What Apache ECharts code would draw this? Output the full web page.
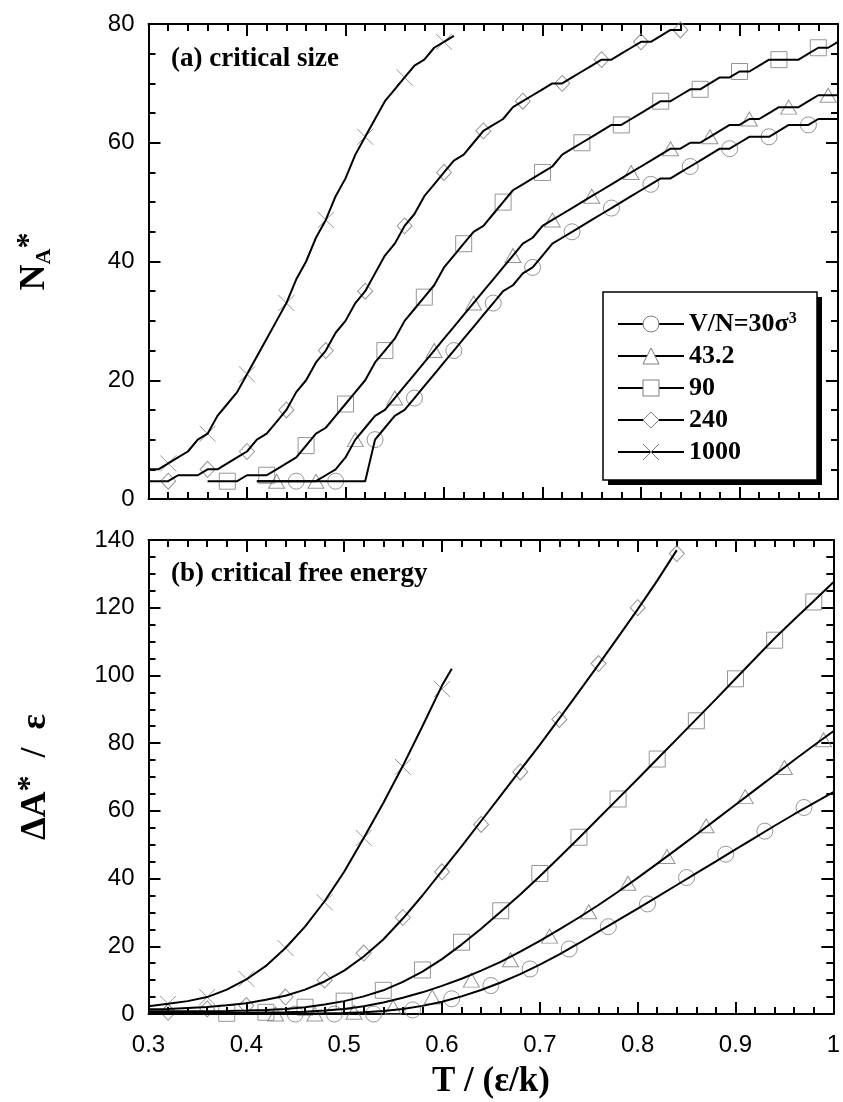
<!DOCTYPE html>
<html>
<head>
<meta charset="utf-8">
<script src="https://cdn.jsdelivr.net/npm/echarts@6/dist/echarts.min.js"></script>
<style>
  html, body { margin: 0; padding: 0; background: #fff; }
  #chart { width: 843px; height: 1102px; }
</style>
</head>
<body>
<div id="chart"></div>
<script>
// Volume per molecule labels (V/N in sigma^3)
const volumes = ['30', '43.2', '90', '240', '1000'];

// Panel (a): critical cluster size N_A* vs T, simulation curves [T, N]
const size30Line = [[0.41,3],[0.42,3],[0.43,3],[0.44,3],[0.45,3],[0.46,3],[0.47,3],[0.48,3],[0.49,3],[0.50,3],[0.51,3],[0.52,3],[0.53,10],[0.54,12],[0.55,14],[0.56,15],[0.57,17],[0.58,19],[0.59,21],[0.60,23],[0.61,25],[0.62,27],[0.63,29],[0.64,31],[0.65,33],[0.66,35],[0.67,36],[0.68,38],[0.69,39],[0.70,41],[0.71,43],[0.72,44],[0.73,45],[0.74,46],[0.75,47],[0.76,48],[0.77,49],[0.78,50],[0.79,51],[0.80,52],[0.81,53],[0.82,54],[0.83,54],[0.84,55],[0.85,56],[0.86,57],[0.87,58],[0.88,59],[0.89,59],[0.90,60],[0.91,61],[0.92,61],[0.93,61],[0.94,62],[0.95,63],[0.96,63],[0.97,63],[0.98,64],[0.99,64],[1.00,64]];
const size43Line = [[0.41,3],[0.42,3],[0.43,3],[0.44,3],[0.45,3],[0.46,3],[0.47,3],[0.48,4],[0.49,5],[0.50,7],[0.51,10],[0.52,12],[0.53,14],[0.54,15],[0.55,17],[0.56,19],[0.57,21],[0.58,23],[0.59,25],[0.60,27],[0.61,29],[0.62,31],[0.63,33],[0.64,35],[0.65,37],[0.66,39],[0.67,41],[0.68,43],[0.69,44],[0.70,46],[0.71,47],[0.72,48],[0.73,49],[0.74,50],[0.75,51],[0.76,52],[0.77,53],[0.78,54],[0.79,55],[0.80,56],[0.81,57],[0.82,58],[0.83,59],[0.84,59],[0.85,60],[0.86,60],[0.87,61],[0.88,62],[0.89,63],[0.90,63],[0.91,64],[0.92,64],[0.93,65],[0.94,66],[0.95,66],[0.96,66],[0.97,67],[0.98,68],[0.99,68],[1.00,68]];
const size90Line = [[0.36,3],[0.37,3],[0.38,3],[0.39,3],[0.40,4],[0.41,4],[0.42,4],[0.43,5],[0.44,6],[0.45,7],[0.46,9],[0.47,11],[0.48,12],[0.49,14],[0.50,16],[0.51,18],[0.52,20],[0.53,23],[0.54,25],[0.55,27],[0.56,30],[0.57,32],[0.58,34],[0.59,36],[0.60,39],[0.61,41],[0.62,43],[0.63,45],[0.64,46],[0.65,48],[0.66,50],[0.67,52],[0.68,53],[0.69,54],[0.70,55],[0.71,56],[0.72,58],[0.73,59],[0.74,60],[0.75,61],[0.76,62],[0.77,63],[0.78,63],[0.79,64],[0.80,65],[0.81,66],[0.82,67],[0.83,67],[0.84,68],[0.85,69],[0.86,69],[0.87,70],[0.88,71],[0.89,71],[0.90,72],[0.91,72],[0.92,73],[0.93,74],[0.94,74],[0.95,74],[0.96,74],[0.97,75],[0.98,76],[0.99,76],[1.00,77]];
const size240Line = [[0.30,3],[0.31,3],[0.32,3],[0.33,4],[0.34,4],[0.35,4],[0.36,5],[0.37,5],[0.38,6],[0.39,7],[0.40,8],[0.41,10],[0.42,11],[0.43,13],[0.44,15],[0.45,18],[0.46,20],[0.47,23],[0.48,25],[0.49,28],[0.50,30],[0.51,33],[0.52,35],[0.53,38],[0.54,41],[0.55,43],[0.56,46],[0.57,48],[0.58,51],[0.59,53],[0.60,55],[0.61,57],[0.62,58],[0.63,60],[0.64,62],[0.65,63],[0.66,64],[0.67,66],[0.68,67],[0.69,68],[0.70,69],[0.71,70],[0.72,70],[0.73,71],[0.74,72],[0.75,73],[0.76,74],[0.77,74],[0.78,75],[0.79,76],[0.80,77],[0.81,77],[0.82,78],[0.83,79],[0.84,79]];
const size1000Line = [[0.30,5],[0.31,5],[0.32,6],[0.33,7],[0.34,8],[0.35,10],[0.36,11],[0.37,14],[0.38,16],[0.39,18],[0.40,21],[0.41,24],[0.42,27],[0.43,30],[0.44,33],[0.45,37],[0.46,40],[0.47,44],[0.48,47],[0.49,51],[0.50,54],[0.51,58],[0.52,61],[0.53,64],[0.54,67],[0.55,69],[0.56,71],[0.57,73],[0.58,74],[0.59,76],[0.60,77],[0.61,78]];

// Panel (a): marked points [T, N]
const size30Pts = [[0.45,3],[0.49,3],[0.53,10],[0.57,17],[0.61,25],[0.65,33],[0.69,39],[0.73,45],[0.77,49],[0.81,53],[0.85,56],[0.89,59],[0.93,61],[0.97,63]];
const size43Pts = [[0.43,3],[0.47,3],[0.51,10],[0.55,17],[0.59,25],[0.63,33],[0.67,41],[0.71,47],[0.75,51],[0.79,55],[0.83,59],[0.87,61],[0.91,64],[0.95,66],[0.99,68]];
const size90Pts = [[0.38,3],[0.42,4],[0.46,9],[0.50,16],[0.54,25],[0.58,34],[0.62,43],[0.66,50],[0.70,55],[0.74,60],[0.78,63],[0.82,67],[0.86,69],[0.90,72],[0.94,74],[0.98,76]];
const size240Pts = [[0.32,3],[0.36,5],[0.40,8],[0.44,15],[0.48,25],[0.52,35],[0.56,46],[0.60,55],[0.64,62],[0.68,67],[0.72,70],[0.76,74],[0.80,77],[0.84,79]];
const size1000Pts = [[0.32,6],[0.36,11],[0.40,21],[0.44,33],[0.48,47],[0.52,61],[0.56,71],[0.60,77]];

// Panel (b): critical free energy dA*/eps, fitted curves [T, dA]
const energy30Line = [[0.30,0],[0.40,0.05],[0.46,0.1],[0.50,0.3],[0.52,0.5],[0.54,0.9],[0.56,1.5],[0.58,2.4],[0.60,3.6],[0.62,5.2],[0.64,7.1],[0.66,9.3],[0.68,11.8],[0.70,14.6],[0.72,17.6],[0.74,20.9],[0.76,24.3],[0.78,27.7],[0.80,31.1],[0.82,34.6],[0.84,38.1],[0.86,41.6],[0.88,45.1],[0.90,48.6],[0.92,52.1],[0.94,55.6],[0.96,59.0],[0.98,62.3],[1.00,65.5]];
const energy43Line = [[0.30,0.3],[0.40,0.35],[0.44,0.5],[0.46,0.7],[0.48,1.0],[0.50,1.5],[0.52,2.3],[0.54,3.4],[0.56,4.8],[0.58,6.4],[0.60,8.3],[0.62,10.4],[0.64,12.8],[0.66,15.4],[0.68,18.4],[0.70,21.6],[0.72,25.0],[0.74,28.5],[0.76,32.2],[0.78,36.1],[0.80,40.2],[0.82,44.4],[0.84,48.7],[0.86,53.0],[0.88,57.4],[0.90,61.8],[0.92,66.2],[0.94,70.6],[0.96,75.0],[0.98,79.3],[1.00,83.5]];
const energy90Line = [[0.30,0.8],[0.34,0.8],[0.38,0.9],[0.40,1.0],[0.42,1.2],[0.44,1.5],[0.46,2.0],[0.48,2.8],[0.50,3.8],[0.52,5.2],[0.54,7.0],[0.56,9.5],[0.58,12.5],[0.60,16.2],[0.62,20.5],[0.64,25.2],[0.66,30.2],[0.68,35.3],[0.70,40.7],[0.72,46.3],[0.74,52.0],[0.76,57.8],[0.78,63.6],[0.80,69.4],[0.82,75.3],[0.84,81.2],[0.86,87.1],[0.88,93.0],[0.90,99.0],[0.92,105.0],[0.94,111.0],[0.96,116.5],[0.98,122.0],[1.00,127.5]];
const energy240Line = [[0.30,1.4],[0.32,1.5],[0.34,1.8],[0.36,2.1],[0.38,2.6],[0.40,3.2],[0.42,4.2],[0.44,5.4],[0.46,7.2],[0.48,9.6],[0.50,12.8],[0.52,17.0],[0.54,22.0],[0.56,28.2],[0.58,35.0],[0.60,42.3],[0.62,49.5],[0.64,57.0],[0.66,64.5],[0.68,72.0],[0.70,79.5],[0.72,87.3],[0.74,95.2],[0.76,103.2],[0.78,111.3],[0.80,119.5],[0.82,128.0],[0.84,137.0]];
const energy1000Line = [[0.30,2.3],[0.32,3.0],[0.34,3.8],[0.36,5.0],[0.38,7.2],[0.40,10.2],[0.42,14.2],[0.44,19.5],[0.46,25.8],[0.48,33.3],[0.50,42.0],[0.52,52.0],[0.54,62.3],[0.56,73.3],[0.58,85.0],[0.60,97.0],[0.61,102.0]];

// Panel (b): marked points [T, dA]
const energy30Pts = [[0.45,0],[0.49,0],[0.53,0],[0.57,1.2],[0.61,4.5],[0.65,8.4],[0.69,13.3],[0.73,19.2],[0.77,25.8],[0.81,32.5],[0.85,40.3],[0.89,47.2],[0.93,54.0],[0.97,61.0]];
const energy43Pts = [[0.43,0],[0.47,0],[0.51,0.5],[0.55,2.0],[0.59,5.0],[0.63,10.0],[0.67,16.0],[0.71,23.0],[0.75,30.2],[0.79,38.6],[0.83,46.5],[0.87,55.6],[0.91,64.2],[0.95,72.8],[0.99,81.0]];
const energy90Pts = [[0.38,0.2],[0.42,0.5],[0.46,2.0],[0.50,3.8],[0.54,7.0],[0.58,13.0],[0.62,21.2],[0.66,30.5],[0.70,41.5],[0.74,52.2],[0.78,63.5],[0.82,75.3],[0.86,86.6],[0.90,99.0],[0.94,110.4],[0.98,121.7]];
const energy240Pts = [[0.32,0.5],[0.36,1.5],[0.40,2.5],[0.44,5.0],[0.48,10.0],[0.52,18.0],[0.56,28.5],[0.60,42.0],[0.64,56.0],[0.68,71.5],[0.72,87.0],[0.76,103.5],[0.80,120.0],[0.84,136.0]];
const energy1000Pts = [[0.32,3.0],[0.36,5.0],[0.40,10.4],[0.44,19.5],[0.48,33.0],[0.52,52.0],[0.56,73.0],[0.60,96.0]];

// Axis tick ranges
const tRange = { min: 0.3, max: 1, step: 0.1 };
const sizeRange = { min: 0, max: 80, step: 20 };
const energyRange = { min: 0, max: 140, step: 20 };

const sizeLines = [size30Line, size43Line, size90Line, size240Line, size1000Line];
const sizePts = [size30Pts, size43Pts, size90Pts, size240Pts, size1000Pts];
const energyLines = [energy30Line, energy43Line, energy90Line, energy240Line, energy1000Line];
const energyPts = [energy30Pts, energy43Pts, energy90Pts, energy240Pts, energy1000Pts];

const INK = '#000';
const MARK = '#7c7c7c';
const SERIF = '"Liberation Serif", "Times New Roman", Times, serif';
const SANS = '"Liberation Sans", Arial, Helvetica, sans-serif';
const CROSS = 'path://M0,0L20,20M20,0L0,20';
const symbols = ['circle', 'triangle', 'rect', 'diamond', CROSS];
const symbolSizes = [16, [16, 14], 16, [15, 16], 16];

function axisCommon(range, minorSplit, showLabels, position, gridIndex) {
  return {
    type: 'value', gridIndex, position,
    min: range.min, max: range.max, interval: range.step,
    axisLine: { show: true, onZero: false, lineStyle: { color: INK, width: 2 } },
    axisTick: { show: true, inside: true, length: 12, lineStyle: { color: INK, width: 2 } },
    minorTick: { show: true, splitNumber: minorSplit, length: 7, lineStyle: { color: INK, width: 2 } },
    splitLine: { show: false },
    minorSplitLine: { show: false },
    axisLabel: { show: showLabels, color: INK, fontFamily: SANS, fontSize: 24 },
    silent: true
  };
}

const NAME_SIZE = 36;
const nameStyle = { color: INK, fontFamily: SERIF, fontWeight: 'bold', fontSize: 35 };

const xAxes = [
  axisCommon(tRange, 5, false, 'bottom', 0),
  axisCommon(tRange, 5, false, 'top', 0),
  Object.assign(axisCommon(tRange, 5, true, 'bottom', 1), {
    name: 'T / (ε/k)', nameLocation: 'middle', nameGap: 50, nameTextStyle: nameStyle
  }),
  axisCommon(tRange, 5, false, 'top', 1)
];
xAxes[2].axisLabel.margin = 19;

const yAxes = [
  Object.assign(axisCommon(sizeRange, 4, true, 'left', 0), {
    name: '{n|N}{s|A}{p|*}', nameLocation: 'middle', nameGap: 93,
    nameTextStyle: Object.assign({}, nameStyle, {
      rich: {
        n: { fontFamily: SERIF, fontWeight: 'bold', fontSize: NAME_SIZE, color: INK, lineHeight: 42 },
        s: { fontFamily: SERIF, fontWeight: 'bold', fontSize: 22, color: INK, verticalAlign: 'bottom', lineHeight: 24 },
        p: { fontFamily: SERIF, fontWeight: 'bold', fontSize: 32, color: INK, verticalAlign: 'top', lineHeight: 32 }
      }
    })
  }),
  axisCommon(sizeRange, 4, false, 'right', 0),
  Object.assign(axisCommon(energyRange, 4, true, 'left', 1), {
    name: '{b|ΔA}{p|*}{b|  /  ε}', nameLocation: 'middle', nameGap: 92,
    nameTextStyle: Object.assign({}, nameStyle, {
      rich: {
        b: { fontFamily: SERIF, fontWeight: 'bold', fontSize: NAME_SIZE, color: INK, lineHeight: 42 },
        p: { fontFamily: SERIF, fontWeight: 'bold', fontSize: 32, color: INK, verticalAlign: 'top', lineHeight: 34 }
      }
    })
  }),
  axisCommon(energyRange, 4, false, 'right', 1)
];
yAxes[0].axisLabel.margin = 14;
yAxes[2].axisLabel.margin = 14;

const series = [];
volumes.forEach((v, i) => {
  const markStyle = { color: 'rgba(0,0,0,0)', borderColor: MARK, borderWidth: 1 };
  // curve (its symbol is only used by the legend icon)
  series.push({
    name: v, type: 'line', xAxisIndex: 0, yAxisIndex: 0, data: sizeLines[i],
    symbol: symbols[i], symbolSize: 16, showSymbol: false,
    lineStyle: { color: INK, width: 2 }, itemStyle: { color: '#fff', borderColor: MARK, borderWidth: 1 },
    z: 4, silent: true, animation: false
  });
  series.push({
    name: v, type: 'scatter', xAxisIndex: 0, yAxisIndex: 0, data: sizePts[i],
    symbol: symbols[i], symbolSize: symbolSizes[i], itemStyle: markStyle,
    z: 3, silent: true, animation: false
  });
  series.push({
    name: v, type: 'line', xAxisIndex: 2, yAxisIndex: 2, data: energyLines[i],
    symbol: symbols[i], showSymbol: false, smooth: false,
    lineStyle: { color: INK, width: 2 }, itemStyle: { color: '#fff', borderColor: MARK, borderWidth: 1 },
    z: 4, silent: true, animation: false
  });
  series.push({
    name: v, type: 'scatter', xAxisIndex: 2, yAxisIndex: 2, data: energyPts[i],
    symbol: symbols[i], symbolSize: symbolSizes[i], itemStyle: markStyle,
    z: 3, silent: true, animation: false
  });
});

const panelText = { color: INK, fontFamily: SERIF, fontWeight: 'bold', fontSize: 27 };

const option = {
  backgroundColor: '#fff',
  animation: false,
  title: [
    { text: '(a) critical size', left: 171, top: 46, padding: 0, textStyle: panelText },
    { text: '(b) critical free energy', left: 171, top: 561, padding: 0, textStyle: panelText }
  ],
  grid: [
    { left: 148.5, top: 24, width: 689.5, height: 475 },
    { left: 148.5, top: 540, width: 689.5, height: 474 }
  ],
  // legend frame with a hard drop shadow
  graphic: [
    { type: 'rect', z: 50, silent: true, shape: { x: 608, y: 297, width: 214, height: 188 }, style: { fill: INK } },
    { type: 'rect', z: 51, silent: true, shape: { x: 603, y: 292, width: 214, height: 188 }, style: { fill: '#fff', stroke: INK, lineWidth: 1.5 } }
  ],
  legend: {
    data: volumes,
    orient: 'vertical',
    left: 617, top: 311,
    z: 60,
    itemWidth: 66, itemHeight: 20, itemGap: 6,
    padding: 0,
    selectedMode: false,
    itemStyle: { color: '#fff', borderColor: MARK, borderWidth: 1 },
    lineStyle: { color: INK, width: 2 },
    formatter: name => name === '30' ? '{a|V/N=30σ}{s|3}' : name,
    textStyle: {
      color: INK, fontFamily: SERIF, fontWeight: 'bold', fontSize: 26, lineHeight: 26,
      rich: {
        a: { color: INK, fontFamily: SERIF, fontWeight: 'bold', fontSize: 26, lineHeight: 26 },
        s: { color: INK, fontFamily: SERIF, fontWeight: 'bold', fontSize: 16, verticalAlign: 'top', lineHeight: 16 }
      }
    }
  },
  xAxis: xAxes,
  yAxis: yAxes,
  series
};

const chart = echarts.init(document.getElementById('chart'), null, { renderer: 'canvas' });
chart.setOption(option);
</script>
</body>
</html>
